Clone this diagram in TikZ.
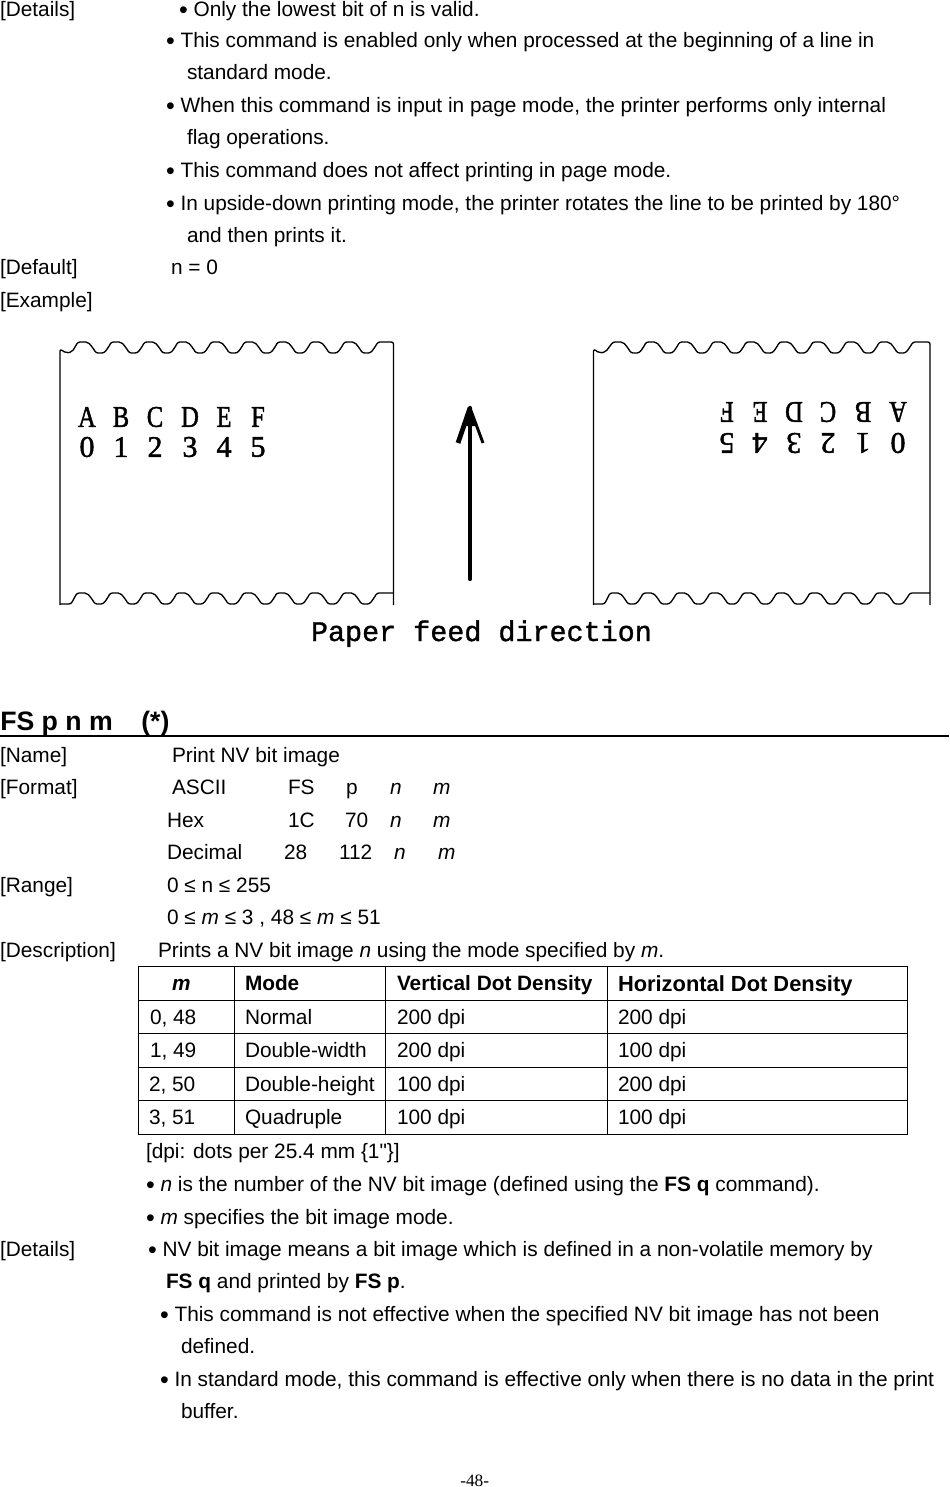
\documentclass[tikz,border=0pt]{standalone}
\usepackage{graphicx}
\usepackage{fontspec}
\setmainfont{Liberation Sans}
\newfontfamily\plainsans{Liberation Sans}
\newfontfamily\glyphfont[FakeBold=1.2]{Liberation Mono}
\newfontfamily\serifglyph[FakeBold=1.6]{Liberation Serif}
\newfontfamily\pagefont{Liberation Serif}
\newcommand\bodyfs{\fontsize{15.63pt}{18pt}\selectfont}
\newcommand\hdfs{\fontsize{15.6pt}{18pt}\selectfont\bfseries}
\newcommand\hdbig{\fontsize{16.4pt}{18pt}\selectfont\bfseries}
\newcommand\hfs{\fontsize{20pt}{22pt}\selectfont\bfseries}
\newcommand\narrow[1]{\scalebox{.82}[1]{#1}}
\newcommand\bul{\hspace{-.75pt}\raisebox{-1.5pt}{\scalebox{1.2}{•}}}
\tikzset{
  txt/.style={anchor=base west,inner sep=0pt,outer sep=0pt,font=\bodyfs,yshift=-1.1pt},
  hd/.style={anchor=base west,inner sep=0pt,outer sep=0pt,font=\hdfs,yshift=-.8pt},
  glyph/.style={inner sep=0pt,outer sep=0pt,font=\serifglyph\fontsize{22.5pt}{24pt}\selectfont},
  feed/.style={anchor=base west,inner sep=0pt,outer sep=0pt,font=\glyphfont\fontsize{21.3pt}{22pt}\selectfont},
  papr/.style={line width=1pt,line join=round,rounded corners=1.6pt},
  grid/.style={line width=.75pt},
}
% top edge + both sides: left x, first crest, right x, crest y, bottom y
\newcommand\papertop[5]{%
  \draw[papr] (#1,#5) -- (#1,#4+7) -- (#1+6,#4+11) -- (#1+12,#4+10)
   \foreach \i [evaluate=\i as \c using #2+33.3*\i] in {0,...,8} {
     -- (\c,#4) -- (\c+10,#4) -- (\c+15,#4+6) -- (\c+18,#4+11) -- (\c+26,#4+11) -- (\c+30,#4+6)
   } -- (#2+300,#4) -- (#3,#4) -- (#3,#5);}
\newcommand\paperbot[4]{%
  \draw[papr] (#1,#4+11) -- (#1+11,#4+11)
   \foreach \i [evaluate=\i as \c using #2+33.3*\i] in {0,...,8} {
     -- (\c,#4) -- (\c+10,#4) -- (\c+15,#4+6) -- (\c+18,#4+11) -- (\c+26,#4+11) -- (\c+30,#4+6)
   } -- (#2+300,#4) -- (#3,#4);}
\begin{document}
\begin{tikzpicture}[x=.75pt,y=-.75pt]
\useasboundingbox (0,0) rectangle (949,1487);
\node[txt] (t1) at (0,15) {[Details]};
\node[txt] (t2) at (180,15) {\bul{} Only the lowest bit of n is valid.};
\node[txt] (t3) at (167,46) {\bul{} This command is enabled only when processed at the beginning of a line in};
\node[txt] (t4) at (187,78) {standard mode.};
\node[txt] (t5) at (167,111) {\bul{} When this command is input in page mode, the printer performs only internal};
\node[txt] (t6) at (187,143) {flag operations.};
\node[txt] (t7) at (167,176) {\bul{} This command does not affect printing in page mode.};
\node[txt] (t8) at (167,209) {\bul{} In upside-down printing mode, the printer rotates the line to be printed by 180°};
\node[txt] (t9) at (187,241) {and then prints it.};
\node[txt] (t10) at (0,273) {[Default]};
\node[txt] (t11) at (171,273) {n = 0};
\node[txt] (t12) at (0,306) {[Example]};

% paper strips
\papertop{60}{78}{393.5}{342}{605}
\paperbot{60}{77}{393.5}{593}
\papertop{593.5}{613}{930}{342}{605}
\paperbot{593.5}{610}{930}{593}
\foreach \x/\ch [count=\n] in {87/A,121/B,155/C,190/D,224/E,258/F}
  \node[glyph] (la\n) at (\x,417) {\narrow{\ch}};
\foreach \x/\ch [count=\n] in {87/0,121/1,155/2,190/3,224/4,258/5}
  \node[glyph] (ld\n) at (\x,447) {\ch};
\foreach \x/\ch [count=\n] in {898/A,863/B,828/C,794/D,760/E,727/F}
  \node[glyph,rotate=180] (ra\n) at (\x,412) {\narrow{\ch}};
\foreach \x/\ch [count=\n] in {898/0,863/1,828/2,794/3,760/4,727/5}
  \node[glyph,rotate=180] (rd\n) at (\x,443) {\ch};

% feed arrow
\coordinate (feedtail) at (470,579);
\coordinate (feedtip) at (470,408);
\coordinate (barbl) at (458,443);
\coordinate (barbr) at (483,443);
\coordinate (headl) at (464,426);
\coordinate (headr) at (476,426);
\draw[line width=3.2pt,line cap=round] (feedtail) -- (feedtip);
\draw[line width=3.6pt] (barbl) -- (feedtip);
\draw[line width=2.2pt] (barbr) -- (feedtip);
\fill (feedtip) -- (headr) -- (headl) -- cycle;
\node[feed] (feedlabel) at (311,641) {Paper feed direction};

% heading
\node[anchor=base west,inner sep=0pt,font=\hfs] (h1) at (0,730) {FS p n m};
\node[anchor=base west,inner sep=0pt,font=\hfs] (h2) at (141,730) {(*)};
\coordinate (ruleL) at (0,736);
\coordinate (ruleR) at (949,736);
\draw[line width=2.2pt] (ruleL) -- (ruleR);

\node[txt] (n1) at (0,761) {[Name]};
\node[txt] (n2) at (172,761) {Print NV bit image};
\node[txt] (f0) at (0,793) {[Format]};
\node[txt] (f1) at (172,793) {ASCII};
\node[txt] (f2) at (288,793) {FS};
\node[txt] (f3) at (346,793) {p};
\node[txt] (f4) at (390,793) {\itshape n};
\node[txt] (f5) at (433,793) {\itshape m};
\node[txt] (g1) at (167,826) {Hex};
\node[txt] (g2) at (288,826) {1C};
\node[txt] (g3) at (345,826) {70};
\node[txt] (g4) at (390,826) {\itshape n};
\node[txt] (g5) at (433,826) {\itshape m};
\node[txt] (k1) at (167,858) {Decimal};
\node[txt] (k2) at (284,858) {28};
\node[txt] (k3) at (339,858) {112};
\node[txt] (k4) at (394,858) {\itshape n};
\node[txt] (k5) at (438,858) {\itshape m};
\node[txt] (r0) at (0,891) {[Range]};
\node[txt] (r1) at (167,891) {0 ≤ n ≤ 255};
\node[txt] (r2) at (167,923) {0 ≤ \textit{m} ≤ 3 , 48 ≤ \textit{m} ≤ 51};
\node[txt] (d0) at (0,956) {[Description]};
\node[txt] (d1) at (158,956) {Prints a NV bit image \textit{n} using the mode specified by \textit{m}.};

% table
\foreach \y/\nm in {966.5/a,1000/b,1033.5/c,1067/d,1100.5/e,1134/f} {
  \coordinate (gl\nm) at (138,\y);
  \coordinate (gr\nm) at (907.5,\y);
  \draw[grid] (gl\nm) -- (gr\nm);
}
\foreach \x/\nm in {138/a,234/b,385.5/c,607.5/d,907.5/e} {
  \coordinate (gt\nm) at (\x,966.5);
  \coordinate (gb\nm) at (\x,1134);
  \draw[grid] (gt\nm) -- (gb\nm);
}
\node[hd,font=\hdfs\itshape] (c00) at (172,989) {m};
\node[hd] (c01) at (245,989) {Mode};
\node[hd] (c02) at (397,989) {Vertical Dot Density};
\node[hd,font=\hdbig] (c03) at (618,990) {Horizontal Dot Density};
\node[txt] (c10) at (150,1023) {0, 48};
\node[txt] (c11) at (245,1023) {Normal};
\node[txt] (c12) at (397,1023) {200 dpi};
\node[txt] (c13) at (618,1023) {200 dpi};
\node[txt] (c20) at (150,1056) {1, 49};
\node[txt] (c21) at (245,1056) {Double-width};
\node[txt] (c22) at (397,1056) {200 dpi};
\node[txt] (c23) at (618,1056) {100 dpi};
\node[txt] (c30) at (149,1090) {2, 50};
\node[txt] (c31) at (245,1090) {Double-height};
\node[txt] (c32) at (397,1090) {100 dpi};
\node[txt] (c33) at (618,1090) {200 dpi};
\node[txt] (c40) at (149,1123) {3, 51};
\node[txt] (c41) at (245,1123) {Quadruple};
\node[txt] (c42) at (397,1123) {100 dpi};
\node[txt] (c43) at (618,1123) {100 dpi};

\node[txt] (a1) at (146,1157) {[dpi: dots per 25.4 mm \{1{\plainsans "}\}]};
\node[txt] (a2) at (147,1190) {\bul{} \textit{n} is the number of the NV bit image (defined using the \textbf{FS q} command).};
\node[txt] (a3) at (147,1223) {\bul{} \textit{m} specifies the bit image mode.};
\node[txt] (a4) at (0,1255) {[Details]};
\node[txt] (a5) at (149,1255) {\bul{} NV bit image means a bit image which is defined in a non-volatile memory by};
\node[txt] (a6) at (166,1287) {\textbf{FS q} and printed by \textbf{FS p}.};
\node[txt] (a7) at (161,1320) {\bul{} This command is not effective when the specified NV bit image has not been};
\node[txt] (a8) at (181,1352) {defined.};
\node[txt] (a9) at (161,1385) {\bul{} In standard mode, this command is effective only when there is no data in the print};
\node[txt] (a10) at (181,1417) {buffer.};
\node[anchor=base west,inner sep=0pt,font=\pagefont\fontsize{13pt}{15pt}\selectfont] (pg) at (460,1486) {-48-};
\end{tikzpicture}
\end{document}
